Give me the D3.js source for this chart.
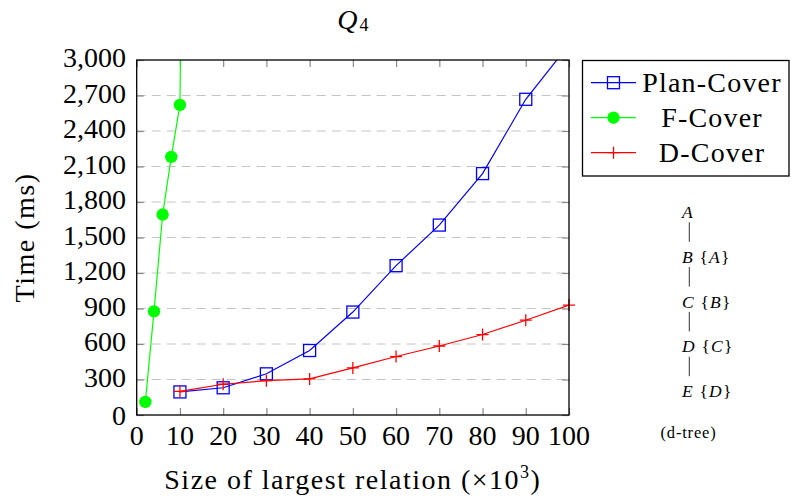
<!DOCTYPE html>
<html>
<head>
<meta charset="utf-8">
<script src="https://cdn.jsdelivr.net/npm/d3@7"></script>
<style>
	body { margin: 0; background: #fff; }
	text { font-family: "Liberation Serif", "DejaVu Serif", "Noto Serif", serif; }
	.tick-label { font-size: 28px; fill: #000; }
	.label { font-size: 28px; letter-spacing: 1.5px; }
	.legend-text { font-size: 28px; letter-spacing: 1.2px; text-anchor: middle; }
	.grid { stroke: #c4c4c4; stroke-width: 1; stroke-dasharray: 9 6; }
	.tick { stroke: #8a8a8a; stroke-width: 1.2; }
	.frame { fill: none; stroke: #000; stroke-width: 1.3; }
	.tree text { font-size: 16.5px; letter-spacing: 0.8px; }
	.tree .node { font-size: 17.5px; letter-spacing: 1.2px; }
</style>
</head>
<body>
<svg width="791" height="503"></svg>
<script>
// sizes of largest relation (x 10^3)
const xPlan = [10, 20, 30, 40, 50, 60, 70, 80, 90, 100];
const planCover = [195, 230, 348, 545, 870, 1262, 1605, 2040, 2668, 3130];

const xF = [2, 4, 6, 8, 10, 12];
const fCover = [110, 876, 1694, 2181, 2620, 9000];

const xD = [10, 20, 30, 40, 50, 60, 70, 80, 90, 100];
const dCover = [200, 260, 290, 305, 398, 494, 583, 680, 801, 929];

const xTicks = [0, 10, 20, 30, 40, 50, 60, 70, 80, 90, 100];
const yTicks = [0, 300, 600, 900, 1200, 1500, 1800, 2100, 2400, 2700, 3000];

const seriesNames = ['Plan-Cover', 'F-Cover', 'D-Cover'];
const treeNodes = [['A', ''], ['B', 'A'], ['C', 'B'], ['D', 'C'], ['E', 'D']];

const svg = d3.select('svg');

const plot = { left: 136.7, right: 569, top: 60, bottom: 415 };

const x = d3.scaleLinear().domain([0, 100]).range([plot.left, plot.right]);
const y = d3.scaleLinear().domain([0, 3000]).range([plot.bottom, plot.top]);

const series = [
	{ name: seriesNames[0], xs: xPlan, ys: planCover, color: '#0000ff', mark: 'square' },
	{ name: seriesNames[1], xs: xF, ys: fCover, color: '#00ff00', mark: 'dot' },
	{ name: seriesNames[2], xs: xD, ys: dCover, color: '#ff0000', mark: 'plus' }
];

// grid
svg.append('g')
	.selectAll('line')
	.data(yTicks.filter((t) => t > 0 && t < 3000))
	.enter()
	.append('line')
	.attr('class', 'grid')
	.attr('x1', plot.left)
	.attr('x2', plot.right)
	.attr('y1', (d) => y(d))
	.attr('y2', (d) => y(d));

// axes (ticks pointing inwards on all sides)
const bottomAxis = d3.axisBottom(x).tickValues(xTicks).tickSize(-7).tickFormat('');
const topAxis = d3.axisTop(x).tickValues(xTicks).tickSize(-7).tickFormat('');
const leftAxis = d3.axisLeft(y).tickValues(yTicks).tickSize(-7).tickFormat('');
const rightAxis = d3.axisRight(y).tickValues(yTicks).tickSize(-7).tickFormat('');

[
	[bottomAxis, `translate(0, ${plot.bottom})`],
	[topAxis, `translate(0, ${plot.top})`],
	[leftAxis, `translate(${plot.left}, 0)`],
	[rightAxis, `translate(${plot.right}, 0)`]
].forEach(([axis, transform]) => {
	const g = svg.append('g').attr('transform', transform).call(axis);
	g.select('.domain').remove();
	g.selectAll('.tick line').attr('class', 'tick').attr('stroke', null);
});

// tick labels
svg.append('g')
	.selectAll('text')
	.data(xTicks)
	.enter()
	.append('text')
	.attr('class', 'tick-label')
	.attr('x', (d) => x(d))
	.attr('y', 445)
	.attr('text-anchor', 'middle')
	.text((d) => d);

svg.append('g')
	.selectAll('text')
	.data(yTicks)
	.enter()
	.append('text')
	.attr('class', 'tick-label')
	.attr('x', 126)
	.attr('y', (d) => y(d) + (d === 0 ? 9.5 : 7))
	.attr('text-anchor', 'end')
	.text((d) => d3.format(',')(d));

// series
svg.append('clipPath')
	.attr('id', 'plot-clip')
	.append('rect')
	.attr('x', plot.left)
	.attr('y', plot.top)
	.attr('width', plot.right - plot.left)
	.attr('height', plot.bottom - plot.top);

const line = d3.line().x((d) => x(d[0])).y((d) => y(d[1]));

function drawMark(g, mark, color) {
	if (mark === 'square') {
		g.append('rect')
			.attr('x', -6).attr('y', -6).attr('width', 12).attr('height', 12)
			.attr('fill', 'none').attr('stroke', color).attr('stroke-width', 1.3);
	} else if (mark === 'dot') {
		g.append('circle').attr('r', 6.2).attr('fill', color);
	} else {
		g.append('path')
			.attr('d', 'M -6 0 H 6 M 0 -6 V 6')
			.attr('stroke', color).attr('stroke-width', 1.3);
	}
}

series.forEach((s) => {
	const pts = s.xs.map((v, i) => [v, s.ys[i]]);

	svg.append('path')
		.attr('d', line(pts))
		.attr('clip-path', 'url(#plot-clip)')
		.attr('fill', 'none')
		.attr('stroke', s.color)
		.attr('stroke-width', 1.2);

	pts.filter((p) => p[1] <= 3000).forEach((p) => {
		const g = svg.append('g').attr('transform', `translate(${x(p[0])}, ${y(p[1])})`);
		drawMark(g, s.mark, s.color);
	});
});

svg.append('rect')
	.attr('class', 'frame')
	.attr('x', plot.left)
	.attr('y', plot.top)
	.attr('width', plot.right - plot.left)
	.attr('height', plot.bottom - plot.top);

// title
const title = svg.append('text')
	.attr('x', (plot.left + plot.right) / 2)
	.attr('y', 29)
	.attr('text-anchor', 'middle');
title.append('tspan').attr('font-style', 'italic').attr('font-size', 28).text('Q');
title.append('tspan').attr('font-size', 18).attr('dy', 2).attr('dx', 2).text('4');

// axis labels
const xLabel = svg.append('text')
	.attr('class', 'label')
	.attr('x', (plot.left + plot.right) / 2)
	.attr('y', 489)
	.attr('text-anchor', 'middle');
xLabel.append('tspan').text('Size of largest relation (×10');
xLabel.append('tspan').attr('font-size', 18).attr('dy', -11).text('3');
xLabel.append('tspan').attr('dy', 11).text(')');

svg.append('text')
	.attr('class', 'label')
	.attr('text-anchor', 'middle')
	.attr('transform', `translate(34, ${(plot.top + plot.bottom) / 2}) rotate(-90)`)
	.text('Time (ms)');

// legend
svg.append('rect')
	.attr('x', 582.5)
	.attr('y', 60.5)
	.attr('width', 206.5)
	.attr('height', 115.5)
	.attr('fill', '#fff')
	.attr('stroke', '#000')
	.attr('stroke-width', 1.3);

series.forEach((s, i) => {
	const cy = 82.7 + i * 35;
	svg.append('line')
		.attr('x1', 591).attr('x2', 636)
		.attr('y1', cy).attr('y2', cy)
		.attr('stroke', s.color).attr('stroke-width', 1.2);
	drawMark(svg.append('g').attr('transform', `translate(613.5, ${cy})`), s.mark, s.color);
	svg.append('text')
		.attr('class', 'legend-text')
		.attr('x', 712)
		.attr('y', cy + 9)
		.text(s.name);
});

// d-tree
const tree = svg.append('g').attr('class', 'tree');
treeNodes.forEach(([node, parent], i) => {
	const baseline = 218 + i * 44.8;
	const t = tree.append('text').attr('class', 'node').attr('x', 682).attr('y', baseline);
	t.append('tspan').attr('font-style', 'italic').text(node);
	if (parent) {
		t.append('tspan').text(' {');
		t.append('tspan').attr('font-style', 'italic').text(parent);
		t.append('tspan').text('}');
	}
	if (i > 0) {
		tree.append('line')
			.attr('x1', 689.3).attr('x2', 689.3)
			.attr('y1', baseline - 40.5).attr('y2', baseline - 21)
			.attr('stroke', '#333').attr('stroke-width', 1);
	}
});
tree.append('text')
	.attr('x', 688.5)
	.attr('y', 438)
	.attr('text-anchor', 'middle')
	.text('(d-tree)');
</script>
</body>
</html>
